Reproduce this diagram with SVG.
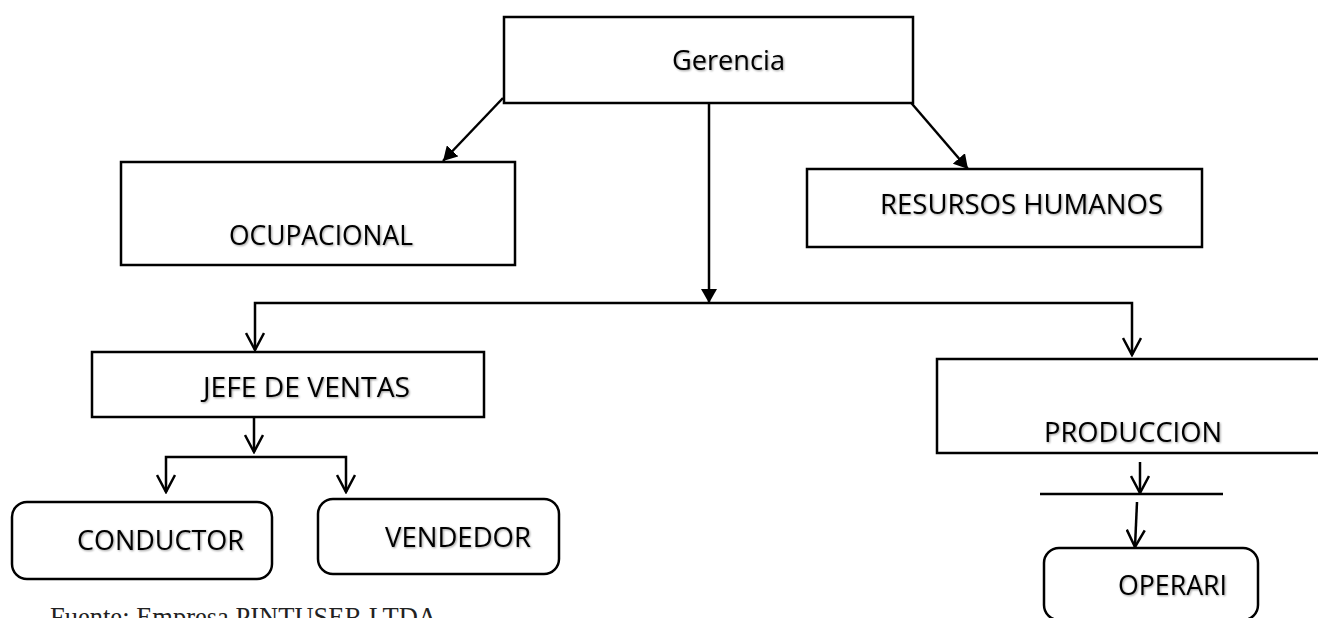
<svg xmlns="http://www.w3.org/2000/svg" width="1318" height="618" viewBox="0 0 1318 618">
  <style>
    .box { fill: #ffffff; stroke: #000000; stroke-width: 2.5; }
    .lbl { font-family: "Open Sans", "Noto Sans", "Liberation Sans", sans-serif; font-size: 28px; fill: #000000; filter: url(#shadow); }
    .conn { fill: none; stroke: #000000; stroke-width: 2.5; }
    .foot { font-family: "Liberation Serif", "Times New Roman", serif; font-size: 26.5px; fill: #222222; }
  </style>
  <defs>
    <filter id="shadow" x="-5%" y="-20%" width="110%" height="150%">
      <feGaussianBlur in="SourceAlpha" stdDeviation="0.8"/>
      <feOffset dx="1" dy="1" result="b"/>
      <feComponentTransfer><feFuncA type="linear" slope="0.4"/></feComponentTransfer>
      <feMerge><feMergeNode/><feMergeNode in="SourceGraphic"/></feMerge>
    </filter>
    <marker id="solid" viewBox="0 0 14 16" refX="14" refY="8" markerWidth="14" markerHeight="16" markerUnits="userSpaceOnUse" orient="auto">
      <path d="M0,0 L14,8 L0,16 Z" fill="#000000"/>
    </marker>
    <marker id="open" viewBox="0 0 20 20" refX="18" refY="10" markerWidth="20" markerHeight="20" markerUnits="userSpaceOnUse" orient="auto">
      <path d="M1,1 L18,10 L1,19" fill="none" stroke="#000000" stroke-width="2.5"/>
    </marker>
  </defs>
  <rect width="1318" height="618" fill="#ffffff"/>

  <g id="connectors">
    <line class="conn" x1="503" y1="98" x2="443" y2="161" marker-end="url(#solid)"/>
    <line class="conn" x1="907" y1="98" x2="968" y2="169" marker-end="url(#solid)"/>
    <line class="conn" x1="709" y1="98" x2="709" y2="303" marker-end="url(#solid)"/>
    <path class="conn" d="M709,303 H255 V350" marker-end="url(#open)"/>
    <path class="conn" d="M709,303 H1132 V355" marker-end="url(#open)"/>
    <line class="conn" x1="254" y1="417" x2="254" y2="452" marker-end="url(#open)"/>
    <path class="conn" d="M256,457 H166 V492" marker-end="url(#open)"/>
    <path class="conn" d="M256,457 H346 V492" marker-end="url(#open)"/>
    <line class="conn" x1="1140" y1="462" x2="1140" y2="493" marker-end="url(#open)"/>
    <line class="conn" x1="1040" y1="494" x2="1223" y2="494"/>
    <line class="conn" x1="1137" y1="502" x2="1135" y2="547" marker-end="url(#open)"/>
  </g>

  <g id="gerencia">
    <rect class="box" x="504" y="17" width="409" height="86"/>
    <text class="lbl" x="672" y="70" textLength="113" lengthAdjust="spacingAndGlyphs">Gerencia</text>
  </g>
  <g id="ocupacional">
    <rect class="box" x="121" y="162" width="394" height="103"/>
    <text class="lbl" x="229" y="245" textLength="184" lengthAdjust="spacingAndGlyphs">OCUPACIONAL</text>
  </g>
  <g id="recursos-humanos">
    <rect class="box" x="807" y="169" width="395" height="78"/>
    <text class="lbl" x="880" y="214" textLength="283" lengthAdjust="spacingAndGlyphs">RESURSOS HUMANOS</text>
  </g>
  <g id="jefe-de-ventas">
    <rect class="box" x="92" y="352" width="392" height="65"/>
    <text class="lbl" x="203" y="397" textLength="207" lengthAdjust="spacingAndGlyphs">JEFE DE VENTAS</text>
  </g>
  <g id="produccion">
    <rect class="box" x="937" y="359" width="400" height="94"/>
    <text class="lbl" x="1044" y="442" textLength="178" lengthAdjust="spacingAndGlyphs">PRODUCCION</text>
  </g>
  <g id="conductor">
    <rect class="box" x="12" y="502" width="260" height="77" rx="15" ry="15"/>
    <text class="lbl" x="77" y="550" textLength="167" lengthAdjust="spacingAndGlyphs">CONDUCTOR</text>
  </g>
  <g id="vendedor">
    <rect class="box" x="318" y="499" width="241" height="75" rx="15" ry="15"/>
    <text class="lbl" x="385" y="547" textLength="146" lengthAdjust="spacingAndGlyphs">VENDEDOR</text>
  </g>
  <g id="operari">
    <rect class="box" x="1044" y="548" width="214" height="72" rx="15" ry="15"/>
    <text class="lbl" x="1118" y="595" textLength="109" lengthAdjust="spacingAndGlyphs">OPERARI</text>
  </g>

  <text class="foot" x="50" y="626" textLength="387" lengthAdjust="spacingAndGlyphs">Fuente: Empresa PINTUSER LTDA</text>
</svg>
